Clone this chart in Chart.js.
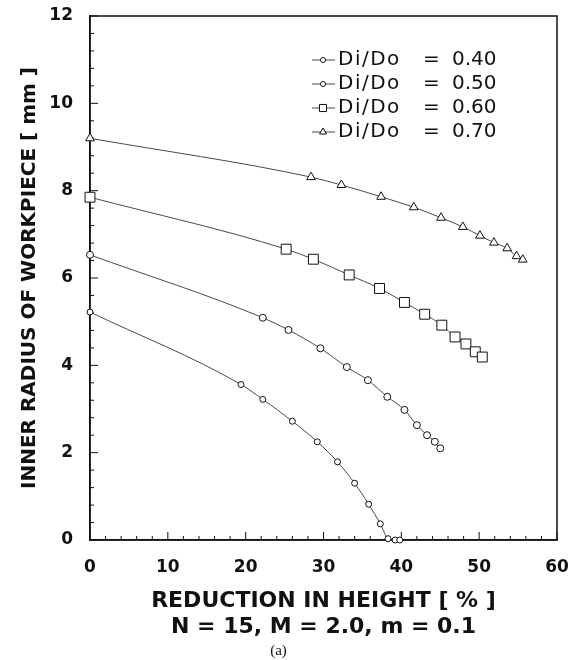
<!DOCTYPE html>
<html>
<head>
<meta charset="utf-8">
<script src="https://cdn.jsdelivr.net/npm/chart.js@4.4.1/dist/chart.umd.min.js"></script>
<style>
  html, body { margin: 0; padding: 0; background: #fff; }
</style>
</head>
<body>
<canvas id="chart" width="570" height="660"></canvas>
<script>
// values: reduction in height [%] vs inner radius [mm]
const ratios = ['0.40', '0.50', '0.60', '0.70'];

const reduction40 = [0, 19.4, 22.2, 26.0, 29.2, 31.8, 34.0, 35.8, 37.3, 38.3, 39.2, 39.8];
const radius40    = [5.22, 3.56, 3.22, 2.72, 2.25, 1.79, 1.30, 0.82, 0.37, 0.03, 0, 0];

const reduction50 = [0, 22.2, 25.5, 29.6, 33.0, 35.7, 38.2, 40.4, 42.0, 43.3, 44.3, 45.0];
const radius50    = [6.53, 5.09, 4.81, 4.39, 3.96, 3.66, 3.28, 2.98, 2.63, 2.40, 2.25, 2.10];

const reduction60 = [0, 25.2, 28.7, 33.3, 37.2, 40.4, 43.0, 45.2, 46.9, 48.3, 49.5, 50.4];
const radius60    = [7.85, 6.66, 6.43, 6.07, 5.76, 5.44, 5.17, 4.92, 4.65, 4.49, 4.31, 4.19];

const reduction70 = [0, 28.4, 32.3, 37.4, 41.6, 45.1, 47.9, 50.1, 51.9, 53.6, 54.8, 55.6];
const radius70    = [9.20, 8.31, 8.13, 7.86, 7.62, 7.38, 7.17, 6.97, 6.81, 6.68, 6.50, 6.42];

const xTickValues = [0, 10, 20, 30, 40, 50, 60];
const yTickValues = [0, 2, 4, 6, 8, 10, 12];
const xMinorStep = 2;
const yMinorStep = 0.4;

const ink = '#111';

function series(xs, ys) {
  return xs.map((x, i) => ({ x: x, y: ys[i] }));
}

function makeSet(label, xs, ys, style, r, legendR) {
  return {
    label: 'Di/Do = ' + label,
    data: series(xs, ys),
    pointStyle: style,
    pointRadius: r,
    legendRadius: legendR,
    pointBorderWidth: 1,
    pointBorderColor: ink,
    pointBackgroundColor: '#fff',
    borderColor: '#4a4a4a',
    borderWidth: 1,
    cubicInterpolationMode: 'monotone',
    clip: false
  };
}

// inward ticks and the box round the plot
const frameTicks = {
  id: 'frameTicks',
  beforeDatasetsDraw(chart) {
    const { ctx, chartArea: a, scales: { x, y } } = chart;
    ctx.save();
    ctx.strokeStyle = ink;
    ctx.lineWidth = 1.5;
    ctx.strokeRect(a.left, a.top, a.right - a.left, a.bottom - a.top);
    ctx.lineWidth = 1;
    const nx = Math.round((x.max - x.min) / xMinorStep);
    for (let i = 0; i <= nx; i++) {
      const px = x.getPixelForValue(x.min + i * xMinorStep);
      const len = i % 5 === 0 ? 8 : 4;
      ctx.beginPath();
      ctx.moveTo(px, a.bottom);
      ctx.lineTo(px, a.bottom - len);
      ctx.stroke();
    }
    const ny = Math.round((y.max - y.min) / yMinorStep);
    for (let i = 0; i <= ny; i++) {
      const py = y.getPixelForValue(y.min + i * yMinorStep);
      const len = i % 5 === 0 ? 8 : 4;
      ctx.beginPath();
      ctx.moveTo(a.left, py);
      ctx.lineTo(a.left + len, py);
      ctx.stroke();
    }
    ctx.restore();
  }
};

// legend in the upper right of the plot: short line, marker, text
const legendBox = {
  id: 'legendBox',
  afterDraw(chart) {
    const { ctx, chartArea: a } = chart;
    const x0 = a.right - 245;
    const y0 = a.top + 44;
    ctx.save();
    chart.data.datasets.forEach((ds, i) => {
      const yy = y0 + i * 24;
      ctx.strokeStyle = '#4a4a4a';
      ctx.lineWidth = 1;
      ctx.beginPath();
      ctx.moveTo(x0, yy);
      ctx.lineTo(x0 + 23, yy);
      ctx.stroke();
      ctx.strokeStyle = ink;
      ctx.fillStyle = '#fff';
      Chart.helpers.drawPoint(ctx, {
        pointStyle: ds.pointStyle, radius: ds.legendRadius, rotation: 0, borderWidth: 1
      }, x0 + 11, yy);
      ctx.fillStyle = ink;
      ctx.textBaseline = 'middle';
      ctx.textAlign = 'left';
      ctx.font = '20px "DejaVu Sans"';
      ctx.letterSpacing = '1.5px';
      ctx.fillText('Di/Do', x0 + 26, yy);
      ctx.letterSpacing = '0px';
      ctx.fillText('=', x0 + 111, yy);
      ctx.fillText(ratios[i], x0 + 140, yy);
    });
    ctx.restore();
  }
};

const chart = new Chart(document.getElementById('chart'), {
  type: 'line',
  data: {
    datasets: [
      makeSet(ratios[0], reduction40, radius40, 'circle', 3, 2.5),
      makeSet(ratios[1], reduction50, radius50, 'circle', 3.5, 2.5),
      makeSet(ratios[2], reduction60, radius60, 'rect', 7, 5),
      makeSet(ratios[3], reduction70, radius70, 'triangle', 5, 4)
    ]
  },
  options: {
    responsive: false,
    animation: false,
    devicePixelRatio: 1,
    layout: { padding: { top: 16, right: 13, left: 0, bottom: 0 } },
    plugins: {
      legend: { display: false },
      tooltip: { enabled: false },
      subtitle: {
        display: true,
        position: 'bottom',
        text: '(a)',
        color: ink,
        padding: 0,
        font: { family: '"Liberation Serif"', size: 15, weight: 'normal', lineHeight: 1.2 }
      }
    },
    scales: {
      x: {
        type: 'linear',
        min: 0,
        max: 60,
        afterBuildTicks: s => { s.ticks = xTickValues.map(v => ({ value: v })); },
        afterFit: s => { s.height = 102; s.paddingLeft = 0; s.paddingRight = 0; },
        grid: { drawOnChartArea: false, drawTicks: false },
        border: { display: true, color: ink, width: 1.5 },
        ticks: {
          color: ink,
          padding: 17,
          maxRotation: 0,
          font: { family: '"DejaVu Sans"', size: 17, weight: 'bold' }
        },
        title: {
          display: true,
          text: ['REDUCTION IN HEIGHT [ % ]', 'N = 15, M = 2.0, m = 0.1'],
          color: ink,
          padding: { top: 0, bottom: 2 },
          font: { family: '"DejaVu Sans"', size: 22, weight: 'bold', lineHeight: '26px' }
        }
      },
      y: {
        type: 'linear',
        min: 0,
        max: 12,
        afterBuildTicks: s => { s.ticks = yTickValues.map(v => ({ value: v })); },
        afterFit: s => { s.width = 90; s.paddingTop = 0; s.paddingBottom = 0; },
        grid: { drawOnChartArea: false, drawTicks: false },
        border: { display: true, color: ink, width: 1.5 },
        ticks: {
          color: ink,
          padding: 17,
          font: { family: '"DejaVu Sans"', size: 17, weight: 'bold' }
        },
        title: {
          display: true,
          text: 'INNER RADIUS OF WORKPIECE [ mm ]',
          color: ink,
          padding: { top: 17.5, bottom: 0 },
          font: { family: '"DejaVu Sans"', size: 20, weight: 'bold', lineHeight: 1.2 }
        }
      }
    }
  },
  plugins: [frameTicks, legendBox]
});
</script>
</body>
</html>
